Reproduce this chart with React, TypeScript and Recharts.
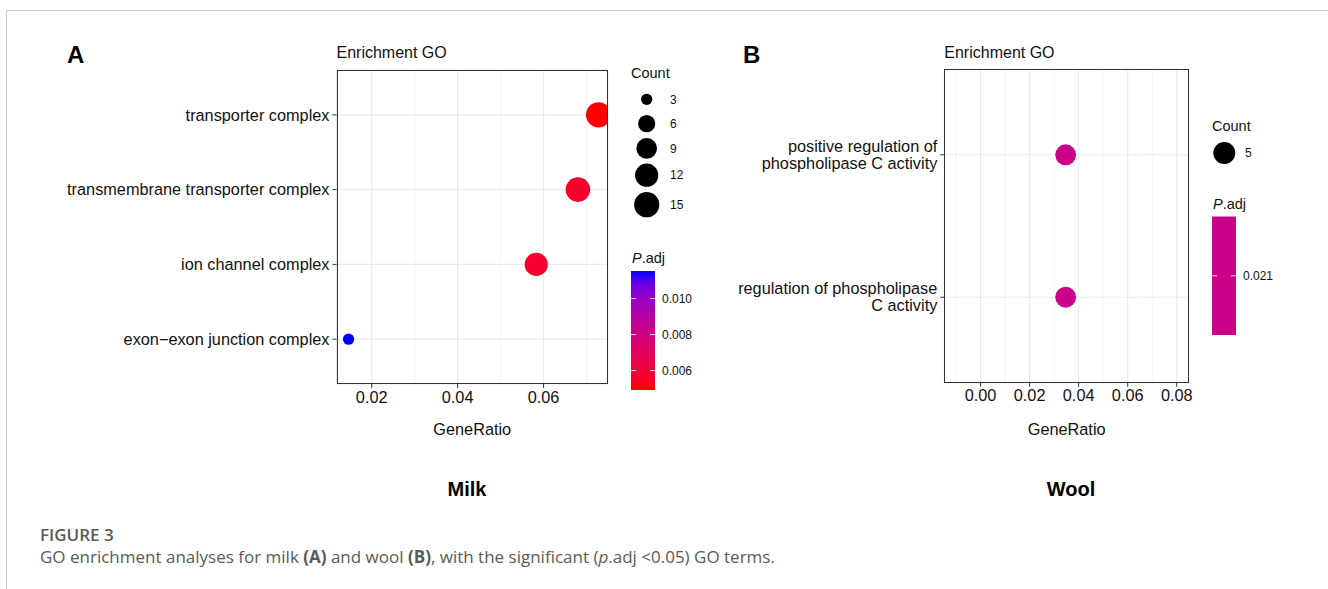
import React from 'react';
import { ScatterChart, Scatter, XAxis, YAxis, ZAxis, CartesianGrid, ReferenceLine, Cell } from 'recharts';

// ---- data ----
const milkTerms = [
  'transporter complex',
  'transmembrane transporter complex',
  'ion channel complex',
  'exon\u2212exon junction complex',
];
const milkGeneRatio = [0.0728, 0.068, 0.0583, 0.0146];
const milkCount = [15, 14, 12, 3];
const milkPadj = [0.00492, 0.0056, 0.0057, 0.01153];
const milkRatioTicks = [0.02, 0.04, 0.06];
const milkRatioMinor = [0.03, 0.05, 0.07];
const milkCountBreaks = [3, 6, 9, 12, 15];
const milkPadjBreaks = [0.006, 0.008, 0.01];

const woolTerms = [
  'positive regulation of\nphospholipase C activity',
  'regulation of phospholipase\nC activity',
];
const woolGeneRatio = [0.0347, 0.0347];
const woolCount = [5, 5];
const woolPadj = [0.021, 0.021];
const woolRatioTicks = [0, 0.02, 0.04, 0.06, 0.08];
const woolRatioMinor = [-0.01, 0.01, 0.03, 0.05, 0.07];
const woolCountBreaks = [5];
const woolPadjBreaks = [0.021];

const FONT = '"Liberation Sans", Arial, sans-serif';
const INK = '#111';
const AXIS_FS = 16.3;

const MILK_PLOT = { l: 336.5, t: 70, r: 608, b: 384 };
const WOOL_PLOT = { l: 944.3, t: 69.3, r: 1189, b: 382.7 };
const MILK_Z = [Math.PI * 5.65 * 5.65, Math.PI * 12.6 * 12.6];
const WOOL_Z = [Math.PI * 10.4 * 10.4, Math.PI * 10.4 * 10.4];

// red -> blue in Lab space, like ggplot's continuous colour scale
const toLin = (c: number) => { c /= 255; return c <= 0.04045 ? c / 12.92 : Math.pow((c + 0.055) / 1.055, 2.4); };
const fromLin = (c: number) => {
  const v = c <= 0.0031308 ? 12.92 * c : 1.055 * Math.pow(c, 1 / 2.4) - 0.055;
  return Math.round(Math.max(0, Math.min(1, v)) * 255);
};
const W = [0.95047, 1, 1.08883];
function rgbToLab([r, g, b]: number[]) {
  const R = toLin(r), G = toLin(g), B = toLin(b);
  const xyz = [
    (0.4124 * R + 0.3576 * G + 0.1805 * B) / W[0],
    (0.2126 * R + 0.7152 * G + 0.0722 * B) / W[1],
    (0.0193 * R + 0.1192 * G + 0.9505 * B) / W[2],
  ];
  const f = (t: number) => (t > 0.008856 ? Math.cbrt(t) : 7.787 * t + 16 / 116);
  const [fx, fy, fz] = xyz.map(f);
  return [116 * fy - 16, 500 * (fx - fy), 200 * (fy - fz)];
}
function labToHex([L, a, b]: number[]) {
  const fy = (L + 16) / 116, fx = fy + a / 500, fz = fy - b / 200;
  const inv = (f: number) => (f * f * f > 0.008856 ? f * f * f : (f - 16 / 116) / 7.787);
  const X = inv(fx) * W[0], Y = inv(fy) * W[1], Z = inv(fz) * W[2];
  const r = fromLin(3.2406 * X - 1.5372 * Y - 0.4986 * Z);
  const g = fromLin(-0.9689 * X + 1.8758 * Y + 0.0415 * Z);
  const bl = fromLin(0.0557 * X - 0.204 * Y + 1.057 * Z);
  return '#' + [r, g, bl].map((v) => v.toString(16).padStart(2, '0')).join('');
}
const LOW = rgbToLab([255, 0, 0]);
const HIGH = rgbToLab([0, 0, 255]);
function padjColor(p: number, min: number, max: number) {
  const t = max > min ? (p - min) / (max - min) : 0.5;
  return labToHex(LOW.map((v, i) => v + (HIGH[i] - v) * t));
}

// same sqrt mapping as the ZAxis below, for the legend keys
function sizeRadius(c: number, dom: number[], range: number[]) {
  const t = dom[1] > dom[0] ? (Math.sqrt(c) - Math.sqrt(dom[0])) / (Math.sqrt(dom[1]) - Math.sqrt(dom[0])) : 0.5;
  return Math.sqrt((range[0] + (range[1] - range[0]) * t) / Math.PI);
}

function TermTick(props: any) {
  const { x, y, payload, terms } = props;
  const label: string = terms[terms.length - payload.value] || '';
  const lines = label.split('\n');
  const lh = 17;
  return (
    <text x={x} y={y} textAnchor="end" fontSize={AXIS_FS} fill={INK} fontFamily={FONT}>
      {lines.map((ln, k) => (
        <tspan key={k} x={x} y={y + (k - (lines.length - 1) / 2) * lh + AXIS_FS * 0.35}>{ln}</tspan>
      ))}
    </text>
  );
}

function GoPanel(props: any) {
  const { terms, ratio, count, padj, xDomain, xTicks, xMinor, plot, chartLeft, chartWidth, zDomain, zRange } = props;
  const chartHeight = 460;
  const xAxisH = 30;
  const rows = terms.map((term: string, i: number) => ({
    term, y: terms.length - i, ratio: ratio[i], count: count[i], padj: padj[i],
  }));
  const pMin = Math.min(...padj), pMax = Math.max(...padj);
  return (
    <div style={{ position: 'absolute', left: chartLeft, top: 0, fontFamily: FONT }}>
      <ScatterChart
        width={chartWidth}
        height={chartHeight}
        margin={{ top: plot.t, right: chartWidth - (plot.r - chartLeft), bottom: chartHeight - plot.b - xAxisH, left: 0 }}
      >
        <CartesianGrid stroke="#EBEBEB" strokeWidth={1.1} />
        {xMinor.map((v: number) => (
          <ReferenceLine key={v} x={v} stroke="#EBEBEB" strokeWidth={0.6} />
        ))}
        <XAxis
          type="number" dataKey="ratio" domain={xDomain} ticks={xTicks} allowDataOverflow interval={0}
          height={xAxisH} axisLine={false} tickLine={{ stroke: '#333' }} tickSize={4} tickMargin={3}
          tick={{ fontSize: AXIS_FS, fill: INK }} tickFormatter={(v: number) => v.toFixed(2)}
        />
        <YAxis
          type="number" dataKey="y" domain={[0.4, terms.length + 0.6]} ticks={rows.map((r: any) => r.y)}
          allowDataOverflow interval={0} width={plot.l - chartLeft} axisLine={false}
          tickLine={{ stroke: '#333' }} tickSize={4} tickMargin={3}
          tick={(p: any) => <TermTick {...p} terms={terms} />}
        />
        <ZAxis type="number" dataKey="count" domain={zDomain} range={zRange} scale="sqrt" />
        <Scatter data={rows} shape="circle" isAnimationActive={false}>
          {rows.map((r: any, i: number) => (
            <Cell key={i} fill={padjColor(r.padj, pMin, pMax)} />
          ))}
        </Scatter>
      </ScatterChart>
      <div
        style={{
          position: 'absolute', left: plot.l - chartLeft, top: plot.t, width: plot.r - plot.l, height: plot.b - plot.t,
          border: '1px solid #333', boxSizing: 'border-box', pointerEvents: 'none',
        }}
      />
    </div>
  );
}

function CountLegend({ x, y, breaks, dom, range, keyDx, labelDx }: any) {
  let cy = y;
  const keys = breaks.map((c: number, i: number) => {
    const r = sizeRadius(c, dom, range);
    const h = Math.max(24.3, r * 2 * 1.22);
    const center = cy + h / 2;
    cy += h;
    return (
      <g key={i}>
        <circle cx={x + keyDx} cy={center} r={r} fill="#000" />
        <text x={x + labelDx} y={center + 4.3} fontSize={12} fill={INK}>{c}</text>
      </g>
    );
  });
  return (
    <g>
      <text x={x} y={y - 9} fontSize={14.5} fill={INK}>Count</text>
      {keys}
    </g>
  );
}

function PadjBar({ id, x, y, h, padj, breaks, labelDigits }: any) {
  const pMin = Math.min(...padj), pMax = Math.max(...padj);
  const w = 24;
  const stops = Array.from({ length: 11 }, (_, k) => k / 10);
  const yOf = (p: number) => (pMax > pMin ? y + h - ((p - pMin) / (pMax - pMin)) * h : y + h / 2);
  return (
    <g>
      <defs>
        <linearGradient id={id} x1="0" y1="1" x2="0" y2="0">
          {stops.map((s) => (
            <stop key={s} offset={s} stopColor={pMax > pMin ? padjColor(pMin + s * (pMax - pMin), pMin, pMax) : padjColor(pMin, pMin, pMax)} />
          ))}
        </linearGradient>
      </defs>
      <text x={x + 1} y={y - 8} fontSize={14.5} fill={INK}>
        <tspan fontStyle="italic">P</tspan>.adj
      </text>
      <rect x={x} y={y} width={w} height={h} fill={`url(#${id})`} />
      {breaks.map((b: number) => (
        <g key={b}>
          <line x1={x} x2={x + 5} y1={yOf(b)} y2={yOf(b)} stroke="#fff" strokeWidth={1} opacity={0.8} />
          <line x1={x + w - 5} x2={x + w} y1={yOf(b)} y2={yOf(b)} stroke="#fff" strokeWidth={1} opacity={0.8} />
          <text x={x + w + 7} y={yOf(b) + 4.2} fontSize={12} fill={INK}>{b.toFixed(labelDigits)}</text>
        </g>
      ))}
    </g>
  );
}

export default function App() {
  return (
    <div style={{ position: 'absolute', left: 0, top: 0, width: 1328, height: 589, background: '#fff', overflow: 'hidden' }}>
      <GoPanel
        terms={milkTerms} ratio={milkGeneRatio} count={milkCount} padj={milkPadj}
        xDomain={[0.0118, 0.075]} xTicks={milkRatioTicks} xMinor={milkRatioMinor}
        plot={MILK_PLOT} chartLeft={0} chartWidth={720} zDomain={[3, 15]} zRange={MILK_Z}
      />
      <GoPanel
        terms={woolTerms} ratio={woolGeneRatio} count={woolCount} padj={woolPadj}
        xDomain={[-0.0148, 0.085]} xTicks={woolRatioTicks} xMinor={woolRatioMinor}
        plot={WOOL_PLOT} chartLeft={720} chartWidth={600} zDomain={[0, 10]} zRange={WOOL_Z}
      />
      <svg width={1328} height={589} style={{ position: 'absolute', left: 0, top: 0, pointerEvents: 'none' }} fontFamily={FONT}>
        <line x1={6} y1={10.5} x2={1328} y2={10.5} stroke="#c8c8c8" />
        <line x1={6.5} y1={10} x2={6.5} y2={589} stroke="#c8c8c8" />

        <text x={67} y={63.3} fontSize={24} fontWeight="bold" fill="#000">A</text>
        <text x={743} y={63.3} fontSize={24} fontWeight="bold" fill="#000">B</text>
        <text x={MILK_PLOT.l} y={58} fontSize={16} fill={INK}>Enrichment GO</text>
        <text x={WOOL_PLOT.l} y={58} fontSize={16} fill={INK}>Enrichment GO</text>
        <text x={(MILK_PLOT.l + MILK_PLOT.r) / 2} y={434.5} fontSize={AXIS_FS} textAnchor="middle" fill={INK}>GeneRatio</text>
        <text x={(WOOL_PLOT.l + WOOL_PLOT.r) / 2} y={434.5} fontSize={AXIS_FS} textAnchor="middle" fill={INK}>GeneRatio</text>
        <text x={467} y={496} fontSize={20} fontWeight="bold" textAnchor="middle" fill="#000">Milk</text>
        <text x={1071} y={496} fontSize={20} fontWeight="bold" textAnchor="middle" fill="#000">Wool</text>

        <CountLegend x={631} y={87.2} breaks={milkCountBreaks} dom={[3, 15]} range={MILK_Z} keyDx={15.7} labelDx={39} />
        <PadjBar id="milkBar" x={631} y={271} h={119} padj={milkPadj} breaks={milkPadjBreaks} labelDigits={3} />

        <CountLegend x={1212} y={139.5} breaks={woolCountBreaks} dom={[0, 10]} range={[Math.PI * 11 * 11, Math.PI * 11 * 11]} keyDx={12.3} labelDx={33} />
        <PadjBar id="woolBar" x={1212} y={216.5} h={118.5} padj={woolPadj} breaks={woolPadjBreaks} labelDigits={3} />

        <text x={40} y={541} fontSize={17} fontWeight={600} fill="#5a5a5a" fontFamily='"Open Sans", sans-serif'>FIGURE 3</text>
        <text x={40} y={563} fontSize={17} fill="#5a5a5a" fontFamily='"Open Sans", sans-serif'>
          GO enrichment analyses for milk <tspan fontWeight="bold">(A)</tspan> and wool <tspan fontWeight="bold">(B)</tspan>, with the significant (<tspan fontStyle="italic">p</tspan>.adj &lt;0.05) GO terms.
        </text>
      </svg>
    </div>
  );
}
